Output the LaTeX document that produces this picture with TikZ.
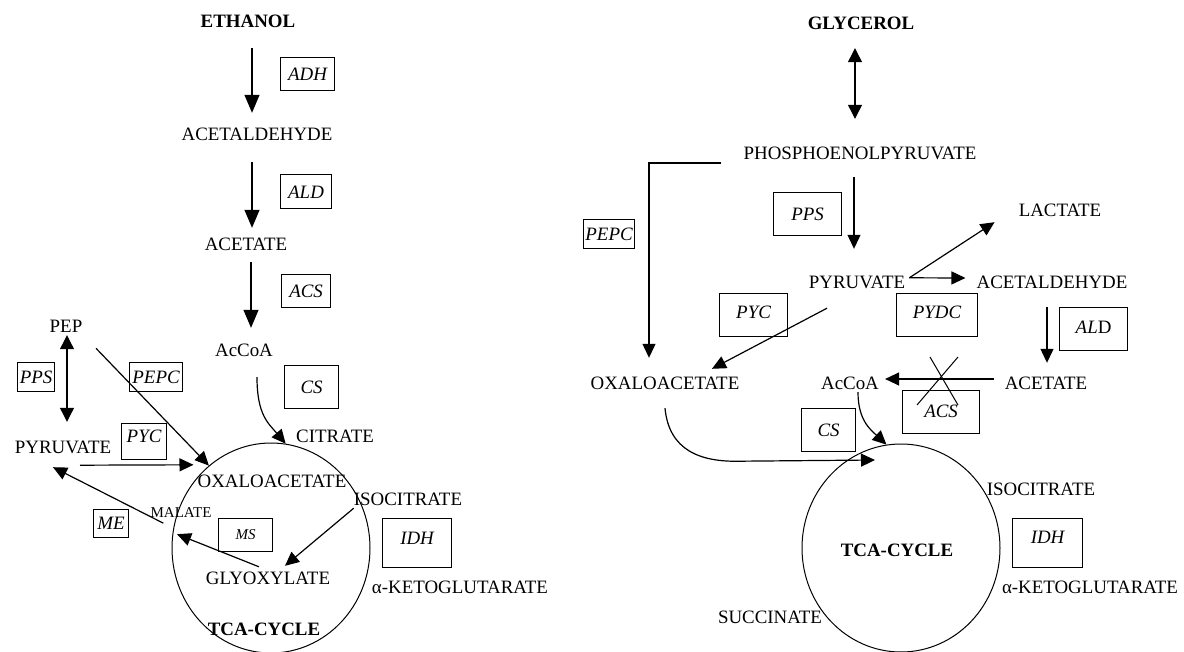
\documentclass[tikz,border=0pt]{standalone}
\usepackage{fontspec}
\setmainfont{Liberation Serif}
\usetikzlibrary{arrows.meta,shapes.geometric}

\begin{document}
\begin{tikzpicture}[
        x=1pt, y=-1pt,
        font=\fontsize{18.9}{22}\selectfont,
        met/.style={inner sep=0pt, text height=13pt, text depth=0pt, anchor=base},
        head/.style={met, font=\fontsize{18.9}{22}\selectfont\bfseries},
        minor/.style={met, font=\fontsize{15}{17}\selectfont, text height=10pt},
        enzyme/.style={draw=black, line width=1.1pt, inner sep=0pt, anchor=north west,
            font=\fontsize{18.9}{22}\selectfont\itshape},
        tca/.style={draw=black, line width=1pt, ellipse, inner sep=0pt,
            minimum width=198pt, minimum height=#1},
        flow/.style={line width=1.2pt, -{Triangle[length=14pt,width=13pt]}},
        bigflow/.style={line width=1.4pt, -{Triangle[length=18pt,width=15pt]}},
        dbl/.style={line width=1.2pt,
            {Triangle[length=14pt,width=14pt]}-{Triangle[length=14pt,width=14pt]}},
        crossline/.style={line width=1pt}]
        \useasboundingbox (0,0) rectangle (1184,652);

        % Ethanol side: metabolites.
        \node[head] (ethanol) at (248,28) {ETHANOL};
        \node[met] (acetaldL) at (257,141) {ACETALDEHYDE};
        \node[met] (acetateL) at (246,251) {ACETATE};
        \node[met] (accoaL) at (244,357) {AcCoA};
        \node[met] (pepL) at (66,333) {PEP};
        \node[met] (pyruvL) at (63,453) {PYRUVATE};
        \node[tca=210pt] (cycL) at (271,548) {};
        \node[met] (oxaloL) at (272,487) {OXALOACETATE};
        \node[met] (citrate) at (335,442) {CITRATE};
        \node[met] (isocitL) at (408,505) {ISOCITRATE};
        \node[minor] (malate) at (181,517) {MALATE};
        \node[met] (glyox) at (268,584) {GLYOXYLATE};
        \node[head] (tcaL) at (264,635) {TCA-CYCLE};
        \node[met] (akgL) at (460,593) {α-KETOGLUTARATE};

        % Glycerol side: metabolites.
        \node[head] (glycerol) at (861,30) {GLYCEROL};
        \node[met] (phospho) at (860,160) {PHOSPHOENOLPYRUVATE};
        \node[met] (lactate) at (1060,217) {LACTATE};
        \node[met] (pyruvR) at (857,289) {PYRUVATE};
        \node[met] (acetaldR) at (1052,289) {ACETALDEHYDE};
        \node[met] (oxaloR) at (665,390) {OXALOACETATE};
        \node[met] (accoaR) at (850,389) {AcCoA};
        \node[met] (acetateR) at (1046,389) {ACETATE};
        \node[tca=208pt] (cycR) at (901,548) {};
        \node[met] (isocitR) at (1041,495) {ISOCITRATE};
        \node[head] (tcaR) at (897,556) {TCA-CYCLE};
        \node[met] (akgR) at (1090,593) {α-KETOGLUTARATE};
        \node[met] (succinate) at (770,623) {SUCCINATE};

        % Enzyme boxes: name/left/top/width/text height/text depth/label.
        \foreach \nm/\bx/\by/\bw/\bh/\bd/\bt in {
                adh/280/57/54/23/10/ADH, aldL/280/174/51/24/10/ALD,
                acsL/281/274/49/23/10/ACS, ppsL/17/362/37/21/8/PPS,
                pepcL/129/362/53/21/8/PEPC, pycL/121/423/45/19/17/PYC,
                csL/284/365/54/28/15/CS, meL/93/509/35/20/8/ME,
                idhL/382/518/69/26/23/IDH, pepcR/583/219/51/21/8/PEPC,
                ppsR/773/192/68/28/15/PPS, pycR/719/293/68/25/18/PYC,
                pydc/896/293/81/25/18/PYDC, aldR/1059/307/68/26/17/{AL\textup{D}},
                acsR/902/390/77/27/16/ACS, csR/801/408/54/28/15/CS,
                idhR/1012/518/70/25/24/IDH} {
                \node[enzyme, minimum width=\bw pt, text height=\bh pt, text depth=\bd pt]
                        (\nm) at (\bx,\by) {\bt};
        }
        \node[enzyme, minimum width=54pt, text height=21pt, text depth=12pt,
                font=\fontsize{15}{17}\selectfont\itshape] (msL) at (218,518) {MS};

        % Ethanol down to acetyl-CoA, then into the cycle.
        \draw[bigflow, shorten <=20pt, shorten >=15pt] ([xshift=4pt]ethanol.south) -- ([xshift=-5pt]acetaldL.north);
        \draw[bigflow, shorten <=21pt, shorten >=10pt] ([xshift=-5pt]acetaldL.south) -- ([xshift=6pt]acetateL.north);
        \draw[bigflow, shorten <=11pt, shorten >=16pt] ([xshift=5pt]acetateL.south) -- ([xshift=7pt]accoaL.north);
        \draw[flow] ([xshift=13pt,yshift=-20pt]accoaL.south) .. controls +(0,38) and +(-17,-20) .. (cycL.82);

        % Anaplerotic and glyoxylate shunt reactions.
        \draw[dbl, shorten <=2pt, shorten >=18pt] ([xshift=1pt]pepL.south) -- ([xshift=4pt]pyruvL.north);
        \draw[flow, shorten <=21pt] ([xshift=-1pt]pepL.south east) -- (cycL.127);
        \draw[flow] ([shift={(17pt,-12pt)}]pyruvL.south) -- ([shift={(-4pt,9pt)}]oxaloL.north west);
        \draw[flow] ([shift={(13pt,-6pt)}]malate.south west) -- ([shift={(-10pt,-14pt)}]pyruvL.south);
        \draw[flow] ([shift={(-9pt,4pt)}]glyox.north) -- ([shift={(-4pt,-17pt)}]malate.south);
        \draw[flow] ([yshift=-3pt]isocitL.south west) -- ([shift={(17pt,5pt)}]glyox.north);

        % Glycerol down to pyruvate and its branches.
        \draw[dbl, shorten <=18pt, shorten >=28pt] ([xshift=-6pt]glycerol.south) -- ([xshift=-5pt]phospho.north);
        \draw[flow] ([shift={(-22pt,-9.5pt)}]phospho.west) -| ([shift={(-16pt,19pt)}]oxaloR.north);
        \draw[flow, shorten <=17pt, shorten >=27pt] ([xshift=-6pt]phospho.south) -- ([xshift=-3pt]pyruvR.north);
        \draw[flow] ([shift={(4pt,-2pt)}]pyruvR.north east) -- ([shift={(-24pt,-5pt)}]lactate.south west);
        \draw[flow] ([shift={(4pt,-2pt)}]pyruvR.north east) -- ([shift={(-11pt,4.5pt)}]acetaldR.west);
        \draw[flow] ([shift={(-30pt,-19pt)}]pyruvR.south) -- ([shift={(47pt,8pt)}]oxaloR.north);
        \draw[flow, shorten <=18pt, shorten >=13pt] ([xshift=-5pt]acetaldR.south) -- ([xshift=1pt]acetateR.north);
        \draw[flow] ([shift={(-11pt,3.5pt)}]acetateR.west) -- ([shift={(6pt,3.5pt)}]accoaR.east);
        \draw[crossline] (930,357) -- (958,405) (958,357) -- (917,405);

        % Both entries into the cycle.
        \draw[flow] ([shift={(8pt,-3pt)}]accoaR.south) .. controls +(0,28) and +(-16,-15) .. (cycR.98);
        \draw[flow] ([yshift=-18pt]oxaloR.south) .. controls +(4,42) and +(-40,1) .. ++(75,53)
                -- ([shift={(-26pt,88pt)}]cycR.center);
\end{tikzpicture}
\end{document}
